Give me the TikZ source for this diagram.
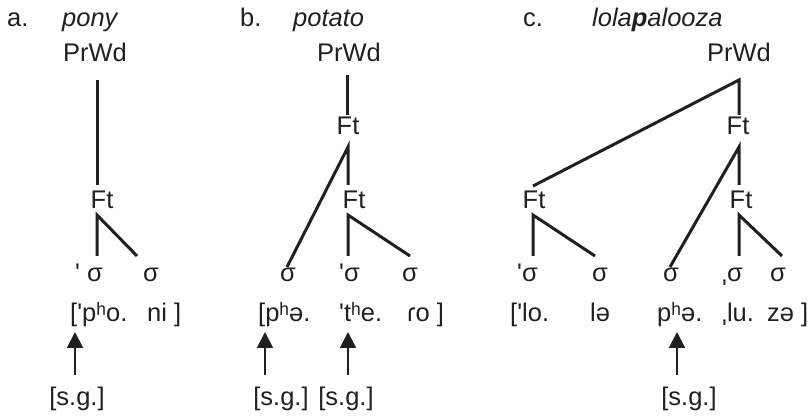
\documentclass[tikz,border=0pt]{standalone}
\usepackage{fontspec}
\setmainfont{Liberation Sans}
\usetikzlibrary{arrows.meta}
\definecolor{ink}{HTML}{231F20}
% primary and secondary stress marks, set as straight ticks
\newcommand{\strs}{\textquotesingle}
\newcommand{\lowstrs}{\raisebox{-0.6em}{\textquotesingle}}
\begin{document}
\begin{tikzpicture}[x=1pt,y=-1pt,
  lbl/.style={inner sep=0pt, anchor=base, text=ink, font=\fontsize{25.5}{30}\selectfont},
  lblw/.style={lbl, anchor=base west},
  branch/.style={draw=ink, line width=3pt, line join=miter},
  pointer/.style={draw=ink, line width=2pt, -{Triangle[width=16pt,length=16pt]}}]
\useasboundingbox (0,0) rectangle (811,419);

% ---------- a. pony ----------
\node[lblw] (labA) at (7,27) {a.};
\node[lblw] (wordA) at (62,27) {\itshape pony};
\node[lbl] (prA) at (95,62) {PrWd};
\node[lbl] (ftA) at (102,209) {Ft};
\node[lblw] (sA1) at (75,282) {\strs\ σ};
\node[lbl] (sA2) at (151,282) {σ};
\node[lblw] (tA1) at (70,322) {[\strs pʰo.};
\node[lblw] (tA2) at (147,322) {ni ]};
\node[lbl] (sgA) at (77,405) {[s.g.]};

\coordinate (prA-b) at (97,80);
\coordinate (ftA-t) at (97,185);
\coordinate (ftA-b) at (97,215);
\coordinate (sA1-t) at (97,256);
\coordinate (sA2-t) at (137,256);
\coordinate (sgA-t) at (75,375);
\coordinate (tA1-b) at (75,332);

\draw[branch] (prA-b) -- (ftA-t);
\draw[branch] (sA1-t) -- (ftA-b) -- (sA2-t);
\draw[pointer] (sgA-t) -- (tA1-b);

% ---------- b. potato ----------
\node[lblw] (labB) at (240,27) {b.};
\node[lblw] (wordB) at (293,27) {\itshape potato};
\node[lbl] (prB) at (349,62) {PrWd};
\node[lbl] (ftB1) at (348,135) {Ft};
\node[lbl] (ftB2) at (354,209) {Ft};
\node[lbl] (sB1) at (288,282) {σ};
\node[lblw] (sB2) at (339,282) {\strs σ};
\node[lbl] (sB3) at (410,282) {σ};
\node[lblw] (tB1) at (258,322) {[pʰə.};
\node[lblw] (tB2) at (339,322) {\strs tʰe.};
\node[lblw] (tB3) at (407,322) {ɾo ]};
\node[lbl] (sgB1) at (281,405) {[s.g.]};
\node[lbl] (sgB2) at (346,405) {[s.g.]};

\coordinate (prB-b) at (347,75);
\coordinate (ftB1-t) at (347,115);
\coordinate (ftB1-b) at (348,147);
\coordinate (ftB2-t) at (348,185);
\coordinate (ftB2-b) at (348,215);
\coordinate (sB1-t) at (287,267);
\coordinate (sB2-t) at (348,256);
\coordinate (sB3-t) at (410,256);
\coordinate (sgB1-t) at (265,375);
\coordinate (tB1-b) at (265,332);
\coordinate (sgB2-t) at (348,375);
\coordinate (tB2-b) at (348,332);

\draw[branch] (prB-b) -- (ftB1-t);
\draw[branch] (sB1-t) -- (ftB1-b) -- (ftB2-t);
\draw[branch] (sB2-t) -- (ftB2-b) -- (sB3-t);
\draw[pointer] (sgB1-t) -- (tB1-b);
\draw[pointer] (sgB2-t) -- (tB2-b);

% ---------- c. lolapalooza ----------
\node[lblw] (labC) at (523,27) {c.};
\node[lblw] (wordC) at (592,27) {\itshape lola\textbf{p}alooza};
\node[lbl] (prC) at (739,62) {PrWd};
\node[lbl] (ftC1) at (738,135) {Ft};
\node[lbl] (ftC2) at (534,209) {Ft};
\node[lbl] (ftC3) at (741,209) {Ft};
\node[lblw] (sC1) at (517,282) {\strs σ};
\node[lbl] (sC2) at (600,282) {σ};
\node[lbl] (sC3) at (671,282) {σ};
\node[lblw] (sC4) at (722,282) {\lowstrs σ};
\node[lbl] (sC5) at (778,282) {σ};
\node[lblw] (tC1) at (510,322) {[\strs lo.};
\node[lblw] (tC2) at (590,322) {lə};
\node[lblw] (tC3) at (657,322) {pʰə.};
\node[lblw] (tC4) at (722,322) {\lowstrs lu.};
\node[lblw] (tC5) at (767,322) {zə ]};
\node[lbl] (sgC) at (689,405) {[s.g.]};

\coordinate (prC-b) at (739,80);
\coordinate (ftC1-t) at (739,115);
\coordinate (ftC1-b) at (739,147);
\coordinate (ftC2-t) at (533,186);
\coordinate (ftC2-b) at (533,215);
\coordinate (ftC3-t) at (739,185);
\coordinate (ftC3-b) at (739,215);
\coordinate (sC1-t) at (533,256);
\coordinate (sC2-t) at (595,256);
\coordinate (sC3-t) at (670,267);
\coordinate (sC4-t) at (739,256);
\coordinate (sC5-t) at (782,256);
\coordinate (sgC-t) at (677,375);
\coordinate (tC3-b) at (677,332);

\draw[branch] (ftC2-t) -- (prC-b) -- (ftC1-t);
\draw[branch] (sC1-t) -- (ftC2-b) -- (sC2-t);
\draw[branch] (sC3-t) -- (ftC1-b) -- (ftC3-t);
\draw[branch] (sC4-t) -- (ftC3-b) -- (sC5-t);
\draw[pointer] (sgC-t) -- (tC3-b);
\end{tikzpicture}
\end{document}
